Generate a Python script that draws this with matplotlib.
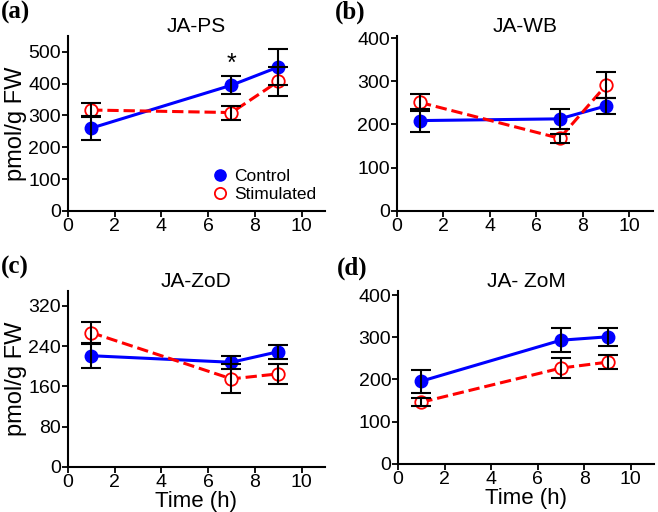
import matplotlib.pyplot as plt
import numpy as np

plt.rcParams['font.family'] = ['Liberation Sans', 'DejaVu Sans']

time = [1, 7, 9]

# JA-PS
ps_ctrl = [260, 395, 452]
ps_ctrl_err = [37, 28, 57]
ps_stim = [317, 309, 407]
ps_stim_err = [21, 22, 45]

# JA-WB
wb_ctrl = [209, 213, 243]
wb_ctrl_err = [27, 23, 19]
wb_stim = [251, 168, 291]
wb_stim_err = [19, 10, 30]

# JA-ZoD
zod_ctrl = [221, 208, 229]
zod_ctrl_err = [24, 13, 14]
zod_stim = [267, 175, 185]
zod_stim_err = [21, 29, 20]

# JA-ZoM
zom_ctrl = [196, 293, 301]
zom_ctrl_err = [27, 29, 22]
zom_stim = [146, 227, 241]
zom_stim_err = [10, 24, 17]

panels = [
    ("(a)", "JA-PS", ps_ctrl, ps_ctrl_err, ps_stim, ps_stim_err, 550, [0, 100, 200, 300, 400, 500]),
    ("(b)", "JA-WB", wb_ctrl, wb_ctrl_err, wb_stim, wb_stim_err, 405, [0, 100, 200, 300, 400]),
    ("(c)", "JA-ZoD", zod_ctrl, zod_ctrl_err, zod_stim, zod_stim_err, 350, [0, 80, 160, 240, 320]),
    ("(d)", "JA- ZoM", zom_ctrl, zom_ctrl_err, zom_stim, zom_stim_err, 410, [0, 100, 200, 300, 400]),
]

# axes rectangles in figure fractions (left, bottom, width, height)
rects = [
    (0.103, 0.588, 0.391, 0.342),
    (0.603, 0.588, 0.389, 0.342),
    (0.103, 0.088, 0.391, 0.344),
    (0.605, 0.094, 0.389, 0.338),
]

fig = plt.figure(figsize=(6.58, 5.12), dpi=100)

for i, (lab, title, c, ce, s, se, ytop, yticks) in enumerate(panels):
    ax = fig.add_axes(rects[i])
    ax.plot(time, c, '-', color='#0000ff', lw=2.2, zorder=2)
    ax.plot(time, s, '--', color='#ff0000', lw=2.2, zorder=2)
    ax.errorbar(time, c, yerr=ce, fmt='none', ecolor='black', elinewidth=1.5,
                capsize=7, capthick=1.5, zorder=4)
    ax.errorbar(time, s, yerr=se, fmt='none', ecolor='black', elinewidth=1.5,
                capsize=7, capthick=1.5, zorder=4)
    h1, = ax.plot(time, c, 'o', color='#0000ff', ms=9, zorder=3, label='Control')
    h2, = ax.plot(time, s, 'o', mfc='white', mec='#ff0000', mew=1.3, ms=9, zorder=3,
                  label='Stimulated')

    ax.set_xlim(0, 11)
    ax.set_ylim(0, ytop)
    ax.set_xticks([0, 2, 4, 6, 8, 10])
    ax.set_yticks(yticks)
    for side in ['top', 'right']:
        ax.spines[side].set_visible(False)
    for side in ['left', 'bottom']:
        ax.spines[side].set_linewidth(1.5)
    ax.tick_params(width=1.3, length=4, labelsize=14, pad=1)
    ax.set_title(title, fontsize=15, pad=2)
    if i in (0, 2):
        ax.set_ylabel("pmol/g FW", fontsize=17, labelpad=1)
    if i in (2, 3):
        ax.set_xlabel("Time (h)", fontsize=16, labelpad=0)

    ax.text(-0.26 if i in (0, 2) else -0.24, 1.2, lab, transform=ax.transAxes,
            fontsize=18, fontweight='bold', family='Liberation Serif', va='top')

    if i == 0:
        ax.text(7, 462, '*', fontsize=18, ha='center', va='center')
        ax.legend(handles=[h1, h2], loc='lower right', frameon=False,
                  fontsize=12.5, handletextpad=0.2, borderaxespad=0.1,
                  labelspacing=0.2, handlelength=1.2, markerscale=0.9)

fig.savefig("out.png", dpi=100)
